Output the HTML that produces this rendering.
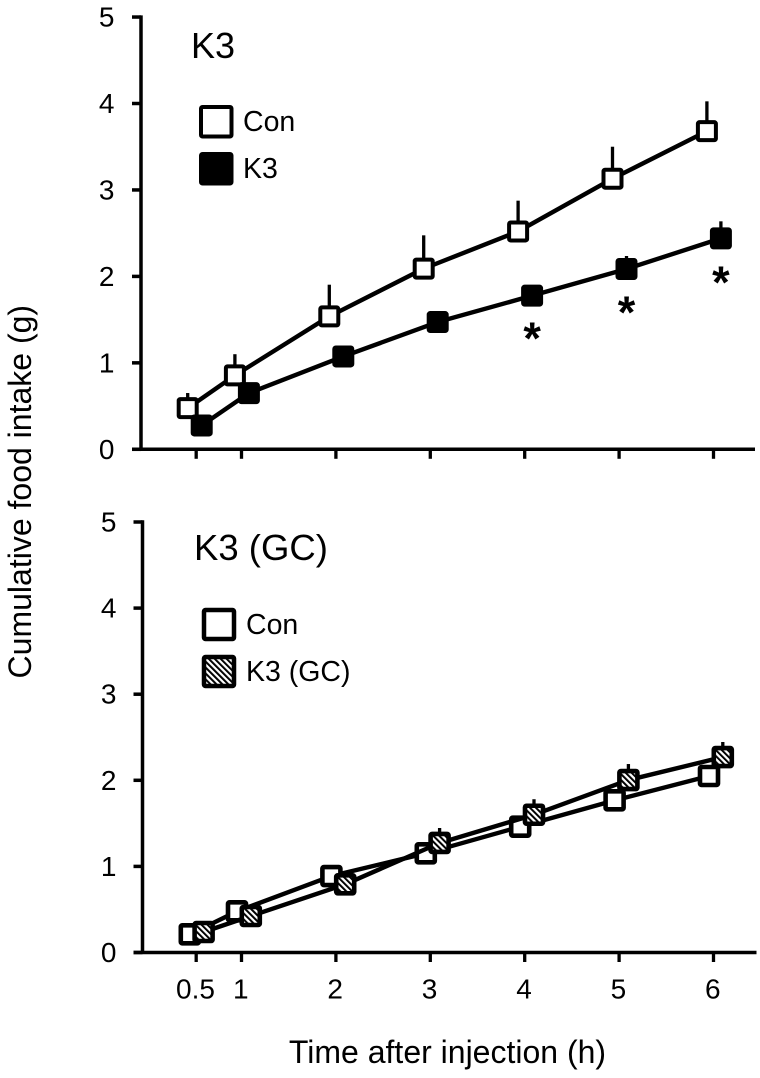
<!DOCTYPE html>
<html>
<head>
<meta charset="utf-8">
<title>Cumulative food intake</title>
<style>
html,body{margin:0;padding:0;background:#fff;width:760px;height:1078px;overflow:hidden}
svg{display:block}
text{font-family:"Liberation Sans",Arial,sans-serif;fill:#000}
</style>
</head>
<body>
<svg id="chart" xmlns="http://www.w3.org/2000/svg" width="760" height="1078" viewBox="0 0 760 1078">
  <defs>
    <pattern id="hatch" patternUnits="userSpaceOnUse" width="4.2" height="4.2" patternTransform="rotate(-45)">
      <rect width="4.2" height="4.2" fill="#fff"/>
      <rect x="0" y="0" width="2" height="4.2" fill="#000"/>
    </pattern>
  </defs>
  <rect width="760" height="1078" fill="#fff"/>
  <text transform="translate(31,491.7) rotate(-90)" text-anchor="middle" font-size="32">Cumulative food intake (g)</text>
  <text x="447.5" y="1063" text-anchor="middle" font-size="32">Time after injection (h)</text>
  <text x="191" y="58" font-size="36">K3</text>
  <text x="194" y="560" font-size="36.5">K3 (GC)</text>

  <g>
    <rect x="201" y="107" width="30.5" height="29.5" rx="1.5" fill="#fff" stroke="#000" stroke-width="4"/>
    <text x="243" y="131" font-size="28.5">Con</text>
    <rect x="201" y="154" width="30.5" height="29.5" rx="1.5" fill="#000" stroke="#000" stroke-width="4"/>
    <text x="243" y="178" font-size="28.5">K3</text>
  </g>
  <g>
    <rect x="204" y="610" width="30" height="29" rx="1.5" fill="#fff" stroke="#000" stroke-width="4.5"/>
    <text x="246" y="634" font-size="28.5">Con</text>
    <rect x="204" y="657" width="30" height="29" rx="1.5" fill="url(#hatch)" stroke="#000" stroke-width="4.5"/>
    <text x="246" y="681" font-size="28.5">K3 (GC)</text>
  </g>
  <g id="plots"></g>
</svg>
<script>
var hours = [0.5, 1, 2, 3, 4, 5, 6];
var xTickLabels = ["0.5", "1", "2", "3", "4", "5", "6"];
var xTickHours = [0.52, 1, 2, 3, 4, 5, 6];
var yTickValues = [0, 1, 2, 3, 4, 5];

var conTop = [0.476, 0.855, 1.537, 2.09, 2.52, 3.13, 3.68];
var conTopErr = [0.175, 0.245, 0.367, 0.385, 0.356, 0.37, 0.345];
var k3Top = [0.276, 0.65, 1.074, 1.472, 1.777, 2.086, 2.44];
var k3TopErr = [0.05, 0.07, 0.09, 0.1, 0.1, 0.15, 0.197];
var sigTopHours = [4, 5, 6];
var sigTopValues = [1.35, 1.65, 2.0];

var conBottom = [0.211, 0.478, 0.888, 1.152, 1.461, 1.767, 2.05];
var conBottomErr = [0.03, 0.05, 0.07, 0.08, 0.09, 0.09, 0.1];
var gcBottom = [0.238, 0.424, 0.792, 1.272, 1.6, 2.003, 2.27];
var gcBottomErr = [0.04, 0.06, 0.1, 0.174, 0.18, 0.186, 0.175];

var NS = 'http://www.w3.org/2000/svg';
var plots = document.getElementById('plots');

function make(tag, attrs, parent) {
  var n = document.createElementNS(NS, tag);
  for (var k in attrs) n.setAttribute(k, attrs[k]);
  parent.appendChild(n);
  return n;
}
function xBase(h) { return 241.5 + 94.4 * (h - 1); }
function yTop(v) { return 449.3 - 86.45 * v; }
function yBottom(v) { return 952.5 - 86.1 * v; }

function drawAxes(parent, yFn, axisX, xEnd, showXLabels, labelRight) {
  var y0 = yFn(0);
  var yAxis = make('line', {x1: axisX, x2: axisX, y1: yFn(5) - 1.7, y2: y0, stroke: '#000', 'stroke-width': 3.5}, parent);
  
  
  var xAxis = make('line', {x1: axisX - 9, x2: xEnd, y1: y0, y2: y0, stroke: '#000', 'stroke-width': 3.5}, parent);
  
  
  yTickValues.forEach(function (v) {
    var t = make('line', {x1: axisX - 9, x2: axisX, y1: yFn(v), y2: yFn(v), stroke: '#000', 'stroke-width': 3.5}, parent);
    
    
    var l = make('text', {x: labelRight, y: yFn(v) + 9.5, 'text-anchor': 'end', 'font-size': 28}, parent);
    
    
    l.textContent = String(v);
  });
  xTickHours.forEach(function (h, i) {
    var px = xBase(h);
    var t = make('line', {x1: px, x2: px, y1: y0, y2: y0 + 9.5, stroke: '#000', 'stroke-width': 3.3}, parent);
    
    
    if (showXLabels) {
      var l = make('text', {x: px - 0.7, y: 998.3, 'text-anchor': 'middle', 'font-size': 28}, parent);
      
      
      l.textContent = xTickLabels[i];
    }
  });
}

function drawSeries(parent, name, values, errors, yFn, offset, fill, markerStroke) {
  var g = make('g', {}, parent);
  
  
  var pts = values.map(function (v, i) { return (xBase(hours[i]) + offset) + ',' + yFn(v); }).join(' ');
  values.forEach(function (v, i) {
    var px = xBase(hours[i]) + offset;
    var e = make('line', {x1: px, x2: px, y1: yFn(v), y2: yFn(v + errors[i]), stroke: '#000', 'stroke-width': 3.3}, g);
    
    
  });
  var line = make('polyline', {points: pts, fill: 'none', stroke: '#000', 'stroke-width': 4.4, 'stroke-linejoin': 'round'}, g);
  
  
  values.forEach(function (v, i) {
    var px = xBase(hours[i]) + offset;
    var r = make('rect', {x: px - 9, y: yFn(v) - 9, width: 18, height: 18, rx: 1.5, fill: fill, stroke: '#000', 'stroke-width': markerStroke}, g);
    
    
  });
}

var topPanel = make('g', {}, plots);


drawAxes(topPanel, yTop, 141, 755, false, 114.5);
drawSeries(topPanel, 'series-con', conTop, conTopErr, yTop, -6.6, '#fff', 4);
drawSeries(topPanel, 'series-k3', k3Top, k3TopErr, yTop, 7.4, '#000', 4);
sigTopHours.forEach(function (h, i) {
  var s = make('text', {x: xBase(h) + 7.4, y: yTop(sigTopValues[i]) + 21.5, 'text-anchor': 'middle', 'font-size': 45, 'font-weight': 'bold'}, topPanel);
  
  
  s.textContent = '*';
});

var bottomPanel = make('g', {}, plots);


drawAxes(bottomPanel, yBottom, 142.5, 756.5, true, 116.5);
drawSeries(bottomPanel, 'series-con-gc', conBottom, conBottomErr, yBottom, -4.5, '#fff', 4.6);
drawSeries(bottomPanel, 'series-k3-gc', gcBottom, gcBottomErr, yBottom, 9.3, 'url(#hatch)', 4.6);
</script>
</body>
</html>
